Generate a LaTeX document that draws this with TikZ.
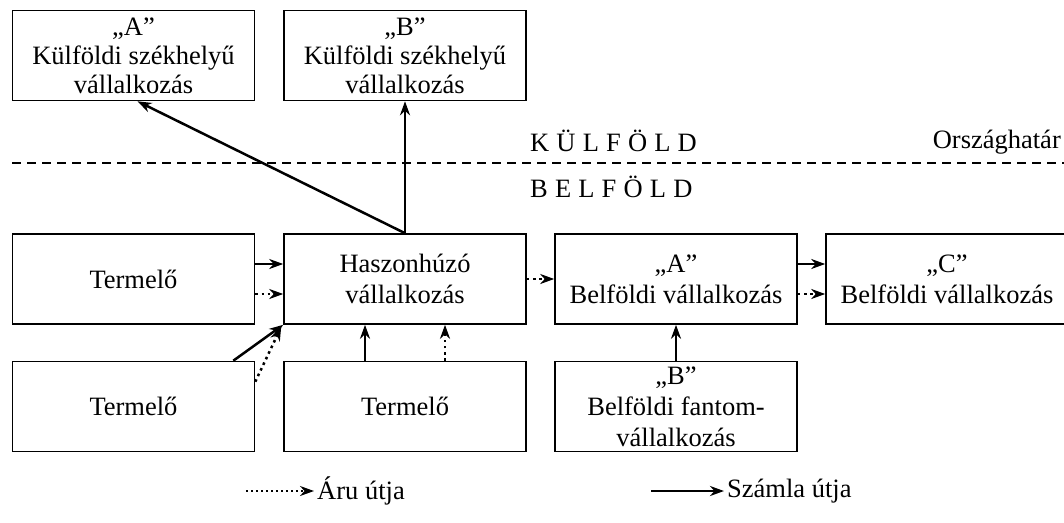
\documentclass[tikz,border=0pt]{standalone}
\usepackage{fontspec}
\setmainfont{Liberation Serif}
\usetikzlibrary{arrows.meta,calc}
\newcommand{\lsp}{\hspace{0.27em}}
\tikzset{
  box/.style={draw, line width=1.6pt, minimum width=242pt, minimum height=90pt, inner sep=0pt, align=center, font=\fontsize{26.5}{29}\selectfont},
  lowbox/.style={box, font=\fontsize{26.5}{31}\selectfont},
  sol/.style={line width=2.5pt, -{Stealth[length=14pt,width=10pt,inset=4.5pt]}},
  dot/.style={line width=2.5pt, dash pattern=on 2.6pt off 3.6pt, -{Stealth[length=14pt,width=10pt,inset=4.5pt]}},
  ldot/.style={line width=1.8pt, dash pattern=on 2.4pt off 2.6pt, -{Stealth[length=14pt,width=10pt,inset=4.5pt]}},
  lbl/.style={inner sep=0pt, font=\fontsize{26.5}{29}\selectfont}
}
\begin{document}
\begin{tikzpicture}[x=1pt,y=-1pt]
\useasboundingbox (0,0) rectangle (1064,522);
% boxes
\node[box] (extA) at (133.5,55.5) {„A”\\Külföldi székhelyű\\vállalkozás};
\node[box] (extB) at (405,55.5) {„B”\\Külföldi székhelyű\\vállalkozás};
\node[lowbox] (term1) at (133.5,279) {Termelő};
\node[lowbox] (hasz) at (405,279) {Haszonhúzó\\vállalkozás};
\node[lowbox] (belA) at (676,279) {„A”\\Belföldi vállalkozás};
\node[lowbox] (belC) at (947,279) {„C”\\Belföldi vállalkozás};
\node[lowbox] (term2) at (133.5,406.5) {Termelő};
\node[lowbox] (term3) at (405,406.5) {Termelő};
\node[lowbox] (fantom) at (676,406.5) {„B”\\Belföldi fantom-\\vállalkozás};
% border
\coordinate (bl) at (12,163);
\coordinate (br) at (1064,163);
\draw[line width=1.5pt, dash pattern=on 9pt off 6pt] (bl) -- (br);
\node[lbl, anchor=base west] (kul) at (530,151) {K\lsp Ü\lsp L\lsp F\lsp Ö\lsp L\lsp D};
\node[lbl, anchor=base west] (bel) at (530,197) {B\lsp E\lsp L\lsp F\lsp Ö\lsp L\lsp D};
\node[lbl, anchor=base east] (hat) at (1061,148) {Országhatár};
% connectors
\draw[sol] (hasz.north) -- ([xshift=4pt]extA.south);
\draw[sol] (hasz.north) -- (extB.south);
\draw[sol] ([yshift=15pt]term1.east) -- ([yshift=15pt]hasz.west);
\draw[dot] ([yshift=-15pt]term1.east) -- ([yshift=-15pt]hasz.west);
\draw[sol] ([xshift=-22pt]term2.north east) -- (hasz.south west);
\draw[dot] ([yshift=-21pt]term2.north east) -- ([xshift=-2pt,yshift=-2pt]hasz.south west);
\draw[sol] ([xshift=-40pt]term3.north) -- ([xshift=-40pt]hasz.south);
\draw[dot] ([xshift=40pt]term3.north) -- ([xshift=40pt]hasz.south);
\draw[dot] (hasz.east) -- (belA.west);
\draw[sol] ([yshift=15pt]belA.east) -- ([yshift=15pt]belC.west);
\draw[dot] ([yshift=-15pt]belA.east) -- ([yshift=-15pt]belC.west);
\draw[sol] (fantom.north) -- (belA.south);
% legend
\coordinate (la) at (246,491);
\coordinate (lb) at (314,491);
\coordinate (lc) at (651,491);
\coordinate (ld) at (724,491);
\draw[ldot] (la) -- (lb);
\node[lbl, anchor=west] (aru) at (317,491) {Áru útja};
\draw[sol] (lc) -- (ld);
\node[lbl, anchor=west] (szamla) at (727,491) {Számla útja};
\end{tikzpicture}
\end{document}
